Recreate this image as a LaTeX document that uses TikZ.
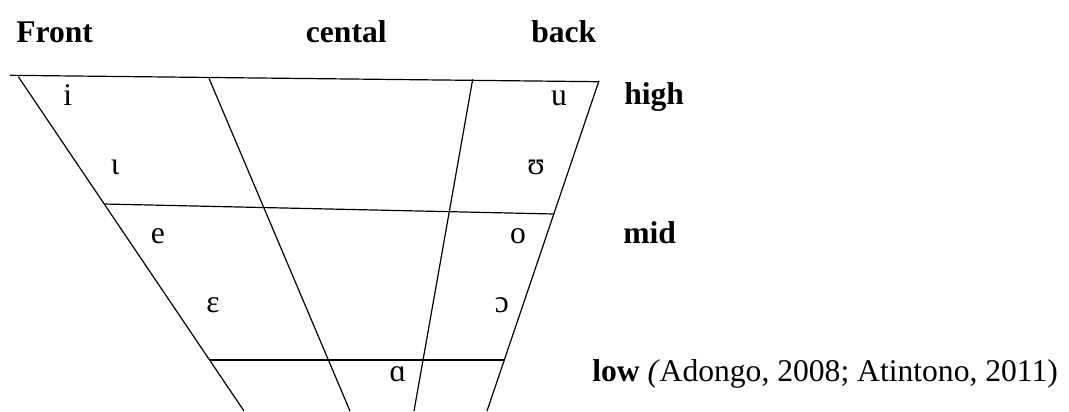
\documentclass[tikz,border=0pt]{standalone}
\usepackage{fontspec}
\setmainfont{Liberation Serif}
\begin{document}
\begin{tikzpicture}[x=0.75pt,y=-0.75pt,
  chartline/.style={line width=0.9pt},
  lowline/.style={line width=1.5pt},
  head/.style={inner sep=0pt,anchor=base west,font=\fontsize{23.7}{28}\selectfont\bfseries},
  vowel/.style={inner sep=0pt,anchor=base,font=\fontsize{23.7}{28}\selectfont}]
\useasboundingbox (0,0) rectangle (1069,411);
% coordinates
\coordinate (TL) at (10,75.3);
\coordinate (TR) at (598,81.7);
\coordinate (L1) at (18.3,76.7);
\coordinate (L2) at (244,411);
\coordinate (C1) at (209,78.3);
\coordinate (C2) at (350,411);
\coordinate (B1) at (472.7,79.3);
\coordinate (B2) at (414,411);
\coordinate (R1) at (599,80.7);
\coordinate (R2) at (487,411);
\coordinate (M1) at (104.3,204);
\coordinate (M2) at (554,214);
\coordinate (W1) at (209.5,360);
\coordinate (W2) at (504.3,360);
% lines
\draw[chartline] (TL) -- (TR);
\draw[chartline] (L1) -- (L2);
\draw[chartline] (C1) -- (C2);
\draw[chartline] (B1) -- (B2);
\draw[chartline] (R1) -- (R2);
\draw[chartline] (M1) -- (M2);
\draw[lowline] (W1) -- (W2);
% headings
\node[head] (front) at (16,42) {Front};
\node[head] (central) at (305.6,42) {cental};
\node[head] (back) at (531,42) {back};
\node[head] (high) at (624,104) {high};
\node[head] (mid) at (623,243) {mid};
\node[head] (low) at (592,381) {low \mdseries\textit{(}Adongo, 2008; Atintono, 2011)};
% vowels
\node[vowel] (vi) at (67.7,105) {i};
\node[vowel] (vu) at (559,105) {u};
\node[vowel] (vI) at (115,174) {ɩ};
\node[vowel] (vU) at (536,174) {ʊ};
\node[vowel] (ve) at (158,243) {e};
\node[vowel] (vo) at (518,243) {o};
\node[vowel] (vE) at (213,312) {ɛ};
\node[vowel] (vO) at (502,312) {ɔ};
\node[vowel] (va) at (398,381) {ɑ};
\end{tikzpicture}
\end{document}
